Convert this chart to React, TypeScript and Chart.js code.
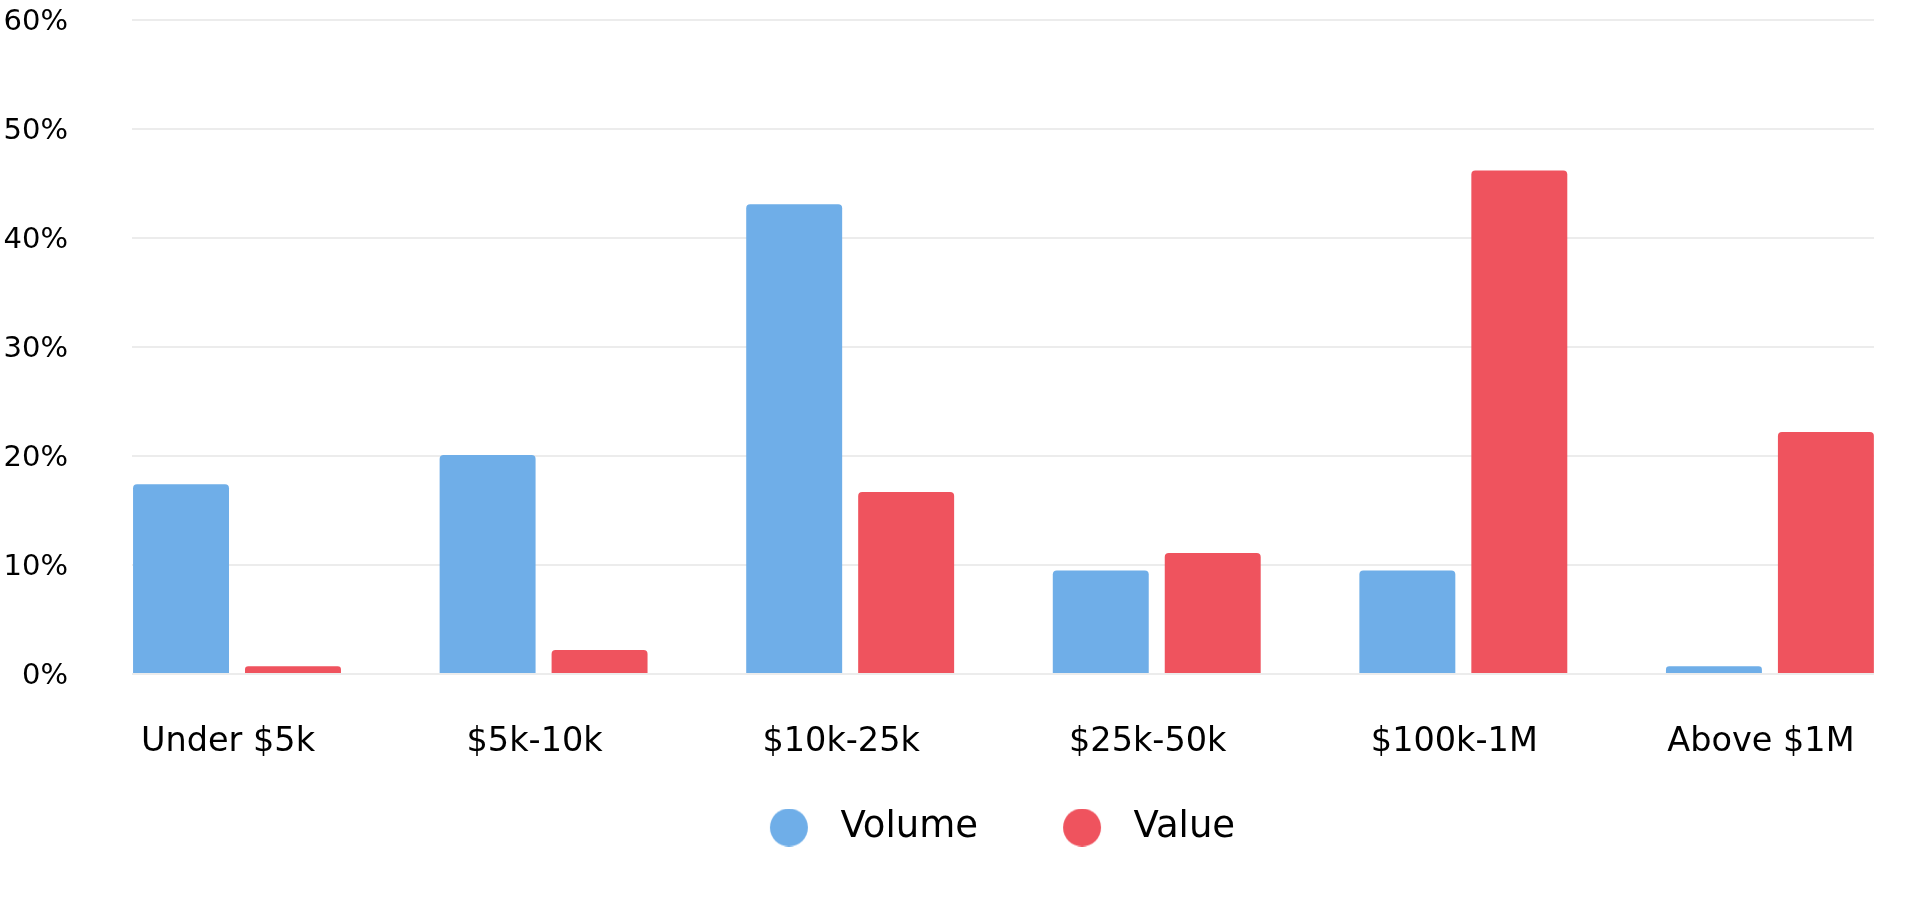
import React, { useEffect, useRef } from 'react';
import { Chart, registerables } from 'chart.js';

Chart.register(...registerables);

const categories = ['Under $5k', '$5k-10k', '$10k-25k', '$25k-50k', '$100k-1M', 'Above $1M'];
const volumeValues = [17.4, 20.1, 43.1, 9.5, 9.5, 0.7];
const valueValues = [0.7, 2.2, 16.7, 11.1, 46.2, 22.2];
const seriesNames = ['Volume', 'Value'];
const seriesColors = ['#6faee8', '#ef535e'];
const yTickValues = [0, 10, 20, 30, 40, 50, 60];

const FONT = "'DejaVu Sans', sans-serif";
const LEGEND_FONT = 37;
const LEGEND_BOX = 137;

function makeMarker(color: string): HTMLCanvasElement {
  const c = document.createElement('canvas');
  c.width = LEGEND_BOX;
  c.height = 38;
  const ctx = c.getContext('2d')!;
  ctx.fillStyle = color;
  ctx.beginPath();
  ctx.arc(LEGEND_BOX - 33, 19, 19, 0, Math.PI * 2);
  ctx.fill();
  return c;
}

export default function App() {
  const canvasRef = useRef<HTMLCanvasElement | null>(null);

  useEffect(() => {
    document.body.style.margin = '0';
    const canvas = canvasRef.current;
    if (!canvas) return;
    const markers = seriesColors.map(makeMarker);
    const series = [volumeValues, valueValues];

    const chart = new Chart(canvas, {
      type: 'bar',
      data: {
        datasets: series.map((vals, s) => ({
          label: seriesNames[s],
          data: vals.map((v, i) => ({ x: i, y: v })),
          backgroundColor: seriesColors[s],
          borderRadius: 4,
          borderSkipped: 'start',
          categoryPercentage: 0.7304,
          barPercentage: 0.857,
          yAxisID: 'y',
        })),
      },
      options: {
        responsive: false,
        animation: false,
        devicePixelRatio: 1,
        layout: { padding: { top: 20, left: 0, right: 0, bottom: 68 } },
        plugins: {
          tooltip: { enabled: false },
          legend: {
            position: 'bottom',
            labels: {
              usePointStyle: true,
              pointStyleWidth: LEGEND_BOX,
              padding: 0,
              color: '#000',
              font: { family: FONT, size: LEGEND_FONT },
              generateLabels: (ch: any) =>
                Chart.defaults.plugins.legend.labels
                  .generateLabels(ch)
                  .map((item: any, i: number) => ({ ...item, pointStyle: markers[i] })),
            },
          },
        },
        scales: {
          x: {
            type: 'linear',
            offset: false,
            min: -0.3425,
            max: categories.length - 1 + 0.3395,
            grid: { display: false, drawTicks: false, offset: false },
            border: { display: false },
            afterBuildTicks: (scale: any) => {
              scale.ticks = categories.map((_, i) => ({ value: i }));
            },
            afterFit: (scale: any) => {
              scale.height = 135;
            },
            ticks: {
              padding: 48,
              labelOffset: -9,
              color: '#000',
              font: { family: FONT, size: 33.5 },
              callback: (v: any) => categories[Math.round(Number(v))],
            },
          },
          y: {
            type: 'linear',
            position: 'left',
            min: yTickValues[0],
            max: yTickValues[yTickValues.length - 1],
            afterBuildTicks: (scale: any) => {
              scale.ticks = yTickValues.map((v) => ({ value: v }));
            },
            afterFit: (scale: any) => {
              scale.width = 132;
            },
            grid: {
              color: '#ececec',
              lineWidth: 2,
              drawTicks: true,
              tickLength: 64,
              tickColor: 'rgba(0,0,0,0)',
            },
            border: { display: false },
            ticks: {
              padding: 0,
              labelOffset: 2,
              color: '#000',
              font: { family: FONT, size: 29 },
              callback: (v: any) => `${v}%`,
            },
          },
          yRight: {
            type: 'linear',
            position: 'right',
            display: true,
            min: 0,
            max: 1,
            grid: { display: false, drawTicks: false },
            border: { display: false },
            ticks: { display: false },
            afterFit: (scale: any) => {
              scale.width = 46;
            },
          },
        },
      },
    } as any);

    return () => chart.destroy();
  }, []);

  return (
    <div style={{ width: 1920, height: 924, position: 'relative', overflow: 'hidden' }}>
      <canvas ref={canvasRef} width={1920} height={924} style={{ display: 'block' }} />
    </div>
  );
}
